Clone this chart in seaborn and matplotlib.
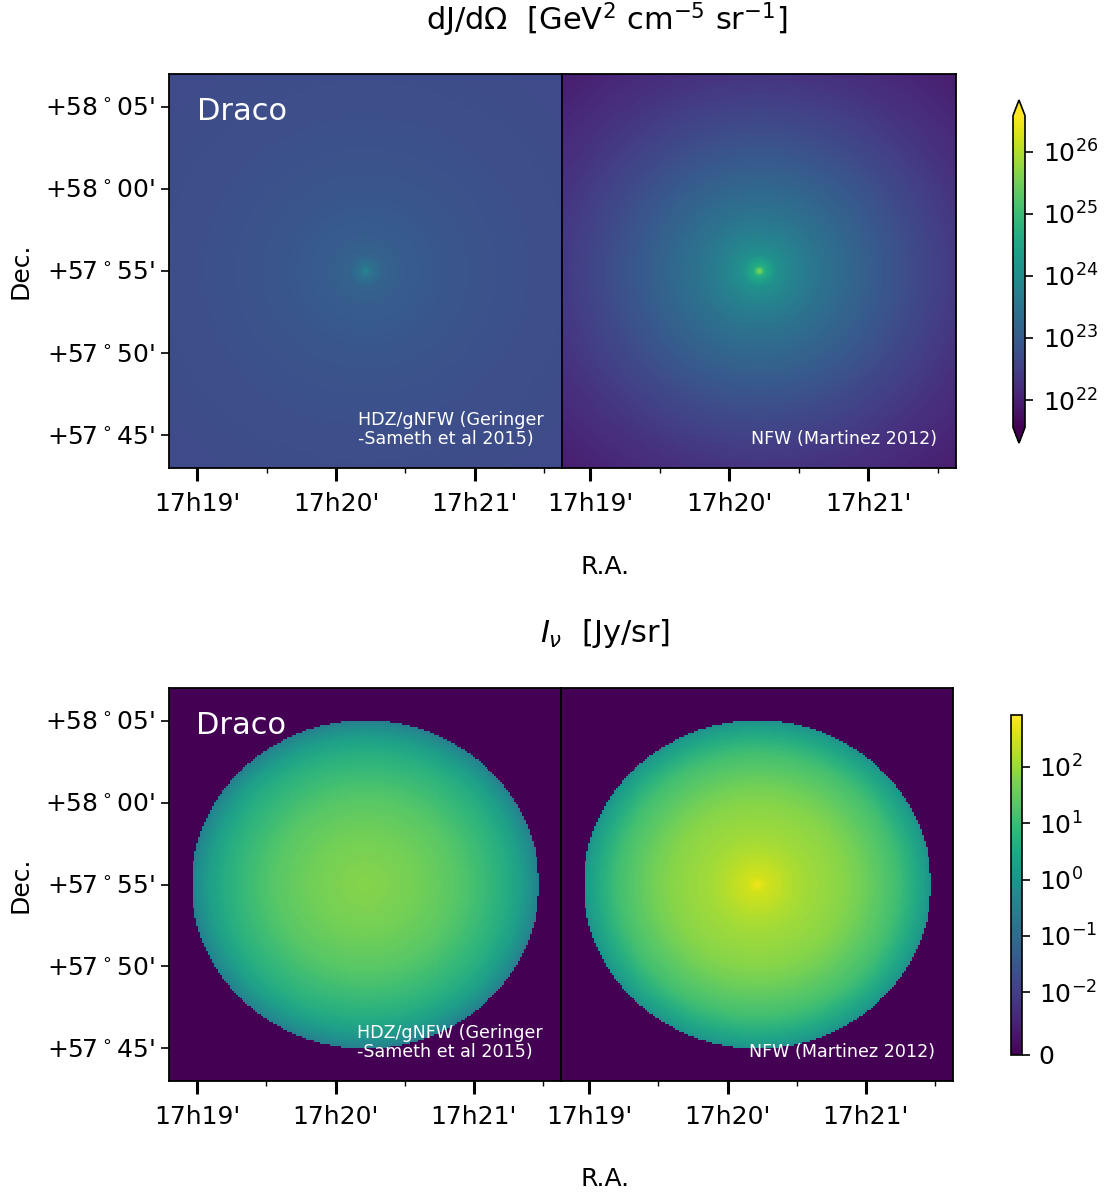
import numpy as np
import matplotlib
matplotlib.use("Agg")
import matplotlib.pyplot as plt
import matplotlib.colors as mcolors
import seaborn as sns

# sky grid (R.A. in minutes after 17h, Dec. in arcmin after +57 deg)
ra_lim = [18.795, 21.63]
dec_lim = [43.0, 67.0]
ra_center = 20.215
dec_center = 55.0
n_pix = 200

ra_ticks = [19, 20, 21]
ra_minor = [19.5, 20.5, 21.5]
ra_labels = ["17h19'", "17h20'", "17h21'"]
dec_ticks = [45, 50, 55, 60, 65]
dec_labels = [r"+57$^\circ$45'", r"+57$^\circ$50'", r"+57$^\circ$55'",
              r"+58$^\circ$00'", r"+58$^\circ$05'"]

# radial profiles (radius in arcmin -> log10 value)
r_J = [0, 0.3, 1, 2, 4, 6, 9, 12, 15, 18]
logJ_hdz = [23.92, 23.47, 23.12, 23.02, 22.93, 22.85, 22.78, 22.73, 22.69, 22.66]
logJ_nfw = [25.83, 24.67, 24.07, 23.77, 23.37, 23.07, 22.66, 22.31, 22.06, 21.86]

r_I = [0, 0.5, 2, 3, 5, 6, 8, 9, 9.7, 10]
logI_hdz = [1.80, 1.79, 1.70, 1.62, 1.38, 1.18, 0.68, 0.25, -0.25, -0.58]
logI_nfw = [2.80, 2.50, 2.20, 2.05, 1.83, 1.62, 1.11, 0.63, 0.21, -0.10]
disk_radius = 10.0

J_range = [10**21.56, 10**26.58]
I_max = 10**2.92
J_cticks = [1e22, 1e23, 1e24, 1e25, 1e26]
I_cticks = [0, 1e-2, 1e-1, 1, 10, 100]
I_clabels = ["0", "$10^{-2}$", "$10^{-1}$", "$10^{0}$", "$10^{1}$", "$10^{2}$"]

panel_names = ["HDZ/gNFW (Geringer\n-Sameth et al 2015)", "NFW (Martinez 2012)"]

sns.set_theme(style="ticks", rc={"axes.edgecolor": "black", "text.color": "black",
                                 "xtick.color": "black", "ytick.color": "black",
                                 "axes.labelcolor": "black"})
plt.rcParams["font.family"] = ["DejaVu Sans"]
cmap = sns.color_palette("viridis", as_cmap=True)

# radius of every pixel from the galaxy centre, on the sky
ra_c = np.linspace(ra_lim[0], ra_lim[1], n_pix + 1)
ra_c = 0.5 * (ra_c[1:] + ra_c[:-1])
dec_c = np.linspace(dec_lim[1], dec_lim[0], n_pix + 1)
dec_c = 0.5 * (dec_c[1:] + dec_c[:-1])
RA, DEC = np.meshgrid(ra_c, dec_c)
R = np.hypot((RA - ra_center) * 15 * np.cos(np.radians(57.92)), DEC - dec_center)

J_maps = [10 ** np.interp(R, r_J, logJ_hdz), 10 ** np.interp(R, r_J, logJ_nfw)]
I_maps = [np.where(R <= disk_radius, 10 ** np.interp(R, r_I, logI_hdz), 0.0),
          np.where(R <= disk_radius, 10 ** np.interp(R, r_I, logI_nfw), 0.0)]

W, H = 1107, 1192
fig = plt.figure(figsize=(W / 100, H / 100), dpi=100)


def px_axes(l, t, r, b):
    return fig.add_axes([l / W, 1 - b / H, (r - l) / W, (b - t) / H])


def to_col(ra):
    return (np.asarray(ra) - ra_lim[0]) / (ra_lim[1] - ra_lim[0]) * n_pix


def to_row(dec):
    return (dec_lim[1] - np.asarray(dec)) / (dec_lim[1] - dec_lim[0]) * n_pix


def style_panel(ax, i, show_y):
    for sp in ax.spines.values():
        sp.set_visible(True)
        sp.set_linewidth(1.3)
        sp.set_color("black")
    ax.set_xticks(to_col(ra_ticks))
    ax.set_xticklabels(ra_labels, fontsize=18, rotation=0)
    ax.set_xticks(to_col(ra_minor), minor=True)
    ax.tick_params(axis="x", which="major", length=9, width=2.2, pad=8)
    ax.tick_params(axis="x", which="minor", length=3.5, width=1)
    if show_y:
        ax.set_yticks(to_row(dec_ticks))
        ax.set_yticklabels(dec_labels, fontsize=18, rotation=0)
        ax.tick_params(axis="y", which="major", length=6, width=1.2, pad=4)
    else:
        ax.set_yticks([])
    ax.text(0.48, 0.05, panel_names[i], transform=ax.transAxes, color="white",
            fontsize=12.6, ha="left", va="bottom", linespacing=1.1)
    if i == 0:
        ax.text(0.07, 0.905, "Draco", transform=ax.transAxes, color="white",
                fontsize=22, ha="left", va="center")


# ---- top row: dJ/dOmega ----
J_norm = mcolors.LogNorm(vmin=J_range[0], vmax=J_range[1])
top_axes = [px_axes(169, 74, 562, 468), px_axes(562, 74, 956, 468)]
cax_top = px_axes(1013, 100, 1025, 443)
for i, ax in enumerate(top_axes):
    sns.heatmap(J_maps[i], ax=ax, cmap=cmap, norm=J_norm, cbar=(i == 0),
                cbar_ax=cax_top if i == 0 else None,
                cbar_kws={"extend": "both", "ticks": J_cticks} if i == 0 else None,
                xticklabels=False, yticklabels=False, rasterized=True)
    style_panel(ax, i, i == 0)
cb = top_axes[0].collections[0].colorbar
cb.outline.set_linewidth(1.2)
cb.ax.minorticks_off()
cb.ax.tick_params(labelsize=18, length=6, width=1.2, pad=7)

# ---- bottom row: I_nu ----
I_norm = mcolors.SymLogNorm(linthresh=1e-2, linscale=1.0, vmin=0, vmax=I_max, base=10)
bot_axes = [px_axes(169, 688, 561, 1081), px_axes(561, 688, 953, 1081)]
cax_bot = px_axes(1011, 715, 1022, 1055)
for i, ax in enumerate(bot_axes):
    sns.heatmap(I_maps[i], ax=ax, cmap=cmap, norm=I_norm, cbar=(i == 0),
                cbar_ax=cax_bot if i == 0 else None,
                cbar_kws={"ticks": I_cticks} if i == 0 else None,
                xticklabels=False, yticklabels=False, rasterized=True)
    style_panel(ax, i, i == 0)
cb2 = bot_axes[0].collections[0].colorbar
cb2.outline.set_linewidth(1.2)
cb2.ax.minorticks_off()
cb2.set_ticks(I_cticks)
cb2.set_ticklabels(I_clabels)
cb2.ax.tick_params(labelsize=18, length=6, width=1.2, pad=6)

# titles and axis labels
fig.text(607 / W, 1 - 20 / H, r"dJ/d$\Omega$  [GeV$^2$ cm$^{-5}$ sr$^{-1}$]",
         ha="center", va="center", fontsize=22)
fig.text(605 / W, 1 - 633 / H, r"$I_\nu$  [Jy/sr]", ha="center", va="center", fontsize=22)
for yc in [271, 885]:
    fig.text(20 / W, 1 - yc / H, "Dec.", rotation=90, ha="center", va="center", fontsize=18)
for yc in [567, 1179]:
    fig.text(605 / W, 1 - yc / H, "R.A.", ha="center", va="center", fontsize=18)

fig.savefig("out.png", dpi=100)
